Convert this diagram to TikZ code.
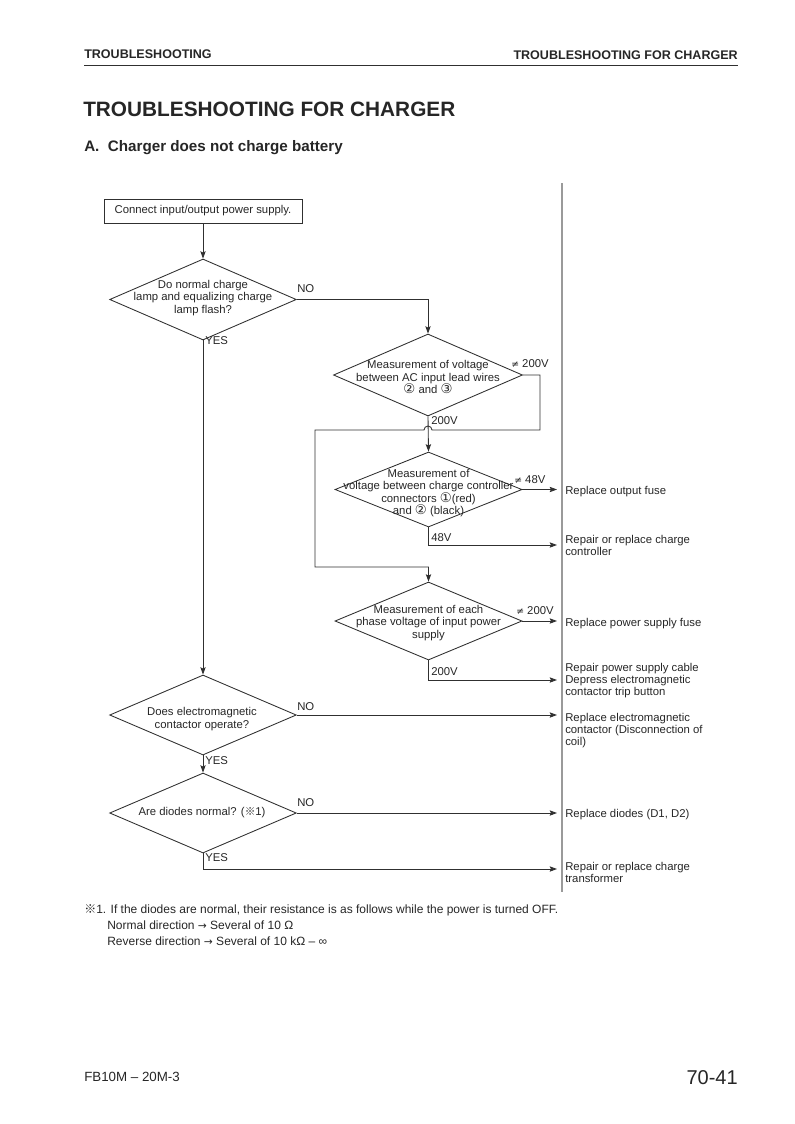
\documentclass[tikz,border=0pt]{standalone}
\usepackage{fontspec}
\setmainfont{Liberation Sans}
\newfontfamily\symf{DejaVu Sans}
\newfontfamily\cjkf{Noto Sans CJK JP}
\usetikzlibrary{shapes.geometric,arrows.meta,calc}
\definecolor{ink}{HTML}{262626}
\definecolor{lineclr}{HTML}{303030}
\definecolor{sepclr}{HTML}{9A9A9A}
\newcommand\fsm{\fontsize{8.5}{9.2}\selectfont}
\newcommand\cn[1]{{\symf\fontsize{10}{9}\selectfont #1}}
\newcommand\lft[1]{\begin{tabular}[t]{@{}l@{}}#1\end{tabular}}
\tikzset{
  flow/.style={draw=lineclr, line width=0.65pt},
  arr/.style={flow, -{Stealth[length=5.5pt,width=4pt,inset=1pt]}},
  dia/.style={diamond, draw=lineclr, line width=0.65pt, inner sep=0pt, minimum width=140pt, minimum height=60.75pt},
  dtxt/.style={font=\fsm, text=ink, align=center, inner sep=0pt},
  lbl/.style={font=\fsm, text=ink, inner sep=0pt, anchor=west},
  rtxt/.style={font=\fsm, text=ink, inner sep=0pt, anchor=base west},
  stepbox/.style={draw=lineclr, line width=0.65pt, font=\fsm, text=ink, inner sep=0pt, minimum width=148.5pt, minimum height=18pt},
}
\begin{document}
\begin{tikzpicture}[x=0.75pt,y=-0.75pt]
\useasboundingbox (0,0) rectangle (794,1124);
\renewcommand\arraystretch{1.0}
% header
\node[font=\bfseries\fontsize{9.4}{11}\selectfont, text=ink, anchor=base west, inner sep=0pt] (hl) at (84,59) {TROUBLESHOOTING};
\node[font=\bfseries\fontsize{9.4}{11}\selectfont, text=ink, anchor=base east, inner sep=0pt] (hr) at (738,60) {TROUBLESHOOTING FOR CHARGER};
\draw[draw=lineclr, line width=1.1pt] (84,65.5) -- (738,65.5);
\node[font=\bfseries\fontsize{15.6}{18}\selectfont, text=ink, anchor=base west, inner sep=0pt] (title) at (83,116) {TROUBLESHOOTING FOR CHARGER};
\node[font=\bfseries\fontsize{11.4}{14}\selectfont, text=ink, anchor=base west, inner sep=0pt] (sub) at (84,151) {A.\ \ Charger does not charge battery};
% separator
\draw[draw=sepclr, line width=1.1pt] (562,183) -- (562,892);

% boxes and decisions
\node[stepbox] (box) at (203,211) {Connect input/output power supply.};

\node[dia] (d1) at (203,299.5) {};
\node[dtxt] (d1t) at (203,298) {Do normal charge\\lamp and equalizing charge\\lamp flash?};

\node[dia, minimum width=141.75pt, minimum height=61.5pt] (d2) at (428,375) {};
\node[dtxt] (d2t) at (428,377) {Measurement of voltage\\between AC input lead wires\\\cn{②} and \cn{③}};

\node[dia, minimum width=140.25pt, minimum height=56.25pt] (d3) at (428.5,489.5) {};
\node[dtxt] (d3t) at (428.5,493) {Measurement of\\voltage between charge controller\\connectors \cn{①}(red)\\and \cn{②} (black)};

\node[dia, minimum width=140.25pt, minimum height=58.5pt] (d4) at (428.5,621) {};
\node[dtxt] (d4t) at (428.5,623) {Measurement of each\\phase voltage of input power\\supply};

\node[dia, minimum width=140pt, minimum height=60pt] (d5) at (203,715) {};
\node[dtxt] (d5t) at (202,719) {Does electromagnetic\\contactor operate?};

\node[dia, minimum width=140pt, minimum height=60pt] (d6) at (203,813) {};
\node[dtxt] (d6t) at (202,813) {Are diodes normal? ({\cjkf\fontsize{8}{9}\selectfont ※}1)};

% result texts
\node[rtxt] (r1) at (565,494) {Replace output fuse};
\node[rtxt] (r2) at (565,543) {\lft{Repair or replace charge\\controller}};
\node[rtxt] (r3) at (565,626) {Replace power supply fuse};
\node[rtxt] (r4) at (565,671) {\lft{Repair power supply cable\\Depress electromagnetic\\contactor trip button}};
\node[rtxt] (r5) at (565,721) {\lft{Replace electromagnetic\\contactor (Disconnection of\\coil)}};
\node[rtxt] (r6) at (565,817) {Replace diodes (D1, D2)};
\node[rtxt] (r7) at (565,870) {\lft{Repair or replace charge\\transformer}};

% arrow end points at the separator
\coordinate (e1) at (557,489.5);
\coordinate (e2) at (557,545);
\coordinate (e3) at (557,621);
\coordinate (e4) at (557,680);
\coordinate (e5) at (557,715);
\coordinate (e6) at (557,813);
\coordinate (e7) at (557,869);

% connectors
\draw[arr] (box.south) -- (d1.north);
\draw[arr] (d1.east) -| (d2.north);
\draw[arr] (d1.south) -- (d5.north);
\draw[arr] (d2.south) -- (d3.north);
\draw[arr] (d2.east) -- (540,375) -- (540,430) -- (432,430)
  arc[start angle=0, end angle=180, radius=3pt] -- (315,430) -- (315,567) -| (d4.north);
\draw[arr] (d3.east) -- (e1);
\draw[arr] (d3.south) |- (e2);
\draw[arr] (d4.east) -- (e3);
\draw[arr] (d4.south) |- (e4);
\draw[arr] (d5.east) -- (e5);
\draw[arr] (d5.south) -- (d6.north);
\draw[arr] (d6.east) -- (e6);
\draw[arr] (d6.south) |- (e7);

% branch labels
\node[lbl] (l1) at (297,289) {NO};
\node[lbl] (l2) at (205,341) {YES};
\node[lbl] (l3) at (511,364) {{\symf\fontsize{7}{8}\selectfont ≠} 200V};
\node[lbl] (l4) at (431,421) {200V};
\node[lbl] (l5) at (514,480) {{\symf\fontsize{7}{8}\selectfont ≠} 48V};
\node[lbl] (l6) at (431,538) {48V};
\node[lbl] (l7) at (516,611) {{\symf\fontsize{7}{8}\selectfont ≠} 200V};
\node[lbl] (l8) at (431,672) {200V};
\node[lbl] (l9) at (297,707) {NO};
\node[lbl] (l10) at (205,761) {YES};
\node[lbl] (l11) at (297,803) {NO};
\node[lbl] (l12) at (205,858) {YES};

% footnote
\node[font=\fontsize{9}{11}\selectfont, text=ink, anchor=base west, inner sep=0pt] (fn1) at (84,913) {{\cjkf\fontsize{9}{11}\selectfont ※}1. If the diodes are normal, their resistance is as follows while the power is turned OFF.};
\node[font=\fontsize{9}{11}\selectfont, text=ink, anchor=base west, inner sep=0pt] (fn2) at (107,929) {Normal direction {\symf\fontsize{8}{10}\selectfont →} Several of 10 Ω};
\node[font=\fontsize{9}{11}\selectfont, text=ink, anchor=base west, inner sep=0pt] (fn3) at (107,945) {Reverse direction {\symf\fontsize{8}{10}\selectfont →} Several of 10 kΩ – ∞};

% footer
\node[font=\fontsize{10}{12}\selectfont, text=ink, anchor=base west, inner sep=0pt] (ft1) at (84,1081) {FB10M – 20M-3};
\node[font=\fontsize{15}{18}\selectfont, text=ink, anchor=base east, inner sep=0pt] (ft2) at (738,1084) {70-41};
\end{tikzpicture}
\end{document}
